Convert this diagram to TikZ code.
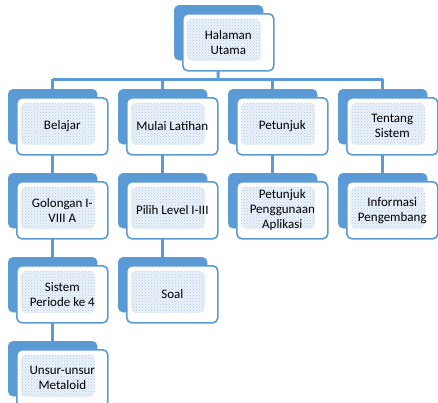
\documentclass[tikz,border=0pt]{standalone}
\usepackage{fontspec}
\setmainfont{Carlito}
\usetikzlibrary{patterns}
\definecolor{myblue}{RGB}{91,155,213}
\definecolor{dotblue}{RGB}{175,202,236}
\definecolor{tintblue}{RGB}{236,242,250}
\tikzset{
  backbox/.style={fill=myblue, draw=myblue, rounded corners=5pt, minimum width=89pt, minimum height=55pt, anchor=north west, inner sep=0pt},
  frontbox/.style={draw=myblue, line width=1.6pt, fill=white, rounded corners=5pt,
    minimum width=91pt, minimum height=57pt, inner sep=0pt, anchor=north west,
    align=center, font=\fontsize{13pt}{15pt}\selectfont, text=black,
    path picture={
      \fill[tintblue]
      ([shift={(4pt,-5pt)}]path picture bounding box.north west) rectangle
      ([shift={(-13pt,10pt)}]path picture bounding box.south east);
      \fill[pattern=crosshatch dots, pattern color=dotblue]
      ([shift={(4pt,-5pt)}]path picture bounding box.north west) rectangle
      ([shift={(-13pt,10pt)}]path picture bounding box.south east);}},
  conn/.style={draw=myblue, line width=3pt}
}
\begin{document}
\begin{tikzpicture}[x=1pt,y=-1pt]
\useasboundingbox (0,0) rectangle (438,402);
\clip (0,0) rectangle (438,402);
% back boxes
\node[backbox] (b0) at (174,5) {};
\node[backbox] (b1) at (8,89) {};
\node[backbox] (b2) at (118,89) {};
\node[backbox] (b3) at (228,89) {};
\node[backbox] (b4) at (338,89) {};
\node[backbox] (b11) at (8,173) {};
\node[backbox] (b21) at (118,173) {};
\node[backbox] (b31) at (228,173) {};
\node[backbox] (b41) at (338,173) {};
\node[backbox] (b12) at (8,257) {};
\node[backbox] (b22) at (118,257) {};
\node[backbox] (b13) at (8,341) {};
% connectors
\coordinate (bus) at (218,79);
\draw[conn] (b0.center) -- (bus);
\draw[conn] (b1.north |- bus) -- (b4.north |- bus);
\foreach \n in {b1,b2,b3,b4} {\draw[conn] (\n.north |- bus) -- (\n.north);}
\draw[conn] (b1.center) -- (b11.north);
\draw[conn] (b11.center) -- (b12.north);
\draw[conn] (b12.center) -- (b13.north);
\draw[conn] (b2.center) -- (b21.north);
\draw[conn] (b21.center) -- (b22.north);
\draw[conn] (b3.center) -- (b31.north);
\draw[conn] (b4.center) -- (b41.north);
% front boxes
\node[frontbox] (f0) at (182,13) {Halaman\\Utama};
\node[frontbox] (f1) at (16,97) {Belajar};
\node[frontbox] (f2) at (126,97) {Mulai Latihan};
\node[frontbox] (f3) at (236,97) {Petunjuk};
\node[frontbox] (f4) at (346,97) {Tentang\\Sistem};
\node[frontbox] (f11) at (16,181) {Golongan I-\\VIII A};
\node[frontbox] (f21) at (126,181) {Pilih Level I-III};
\node[frontbox] (f31) at (236,181) {Petunjuk\\Penggunaan\\Aplikasi};
\node[frontbox] (f41) at (346,181) {Informasi\\Pengembang};
\node[frontbox] (f12) at (16,265) {Sistem\\Periode ke 4};
\node[frontbox] (f22) at (126,265) {Soal};
\node[frontbox] (f13) at (16,349) {Unsur-unsur\\Metaloid};
\end{tikzpicture}
\end{document}
